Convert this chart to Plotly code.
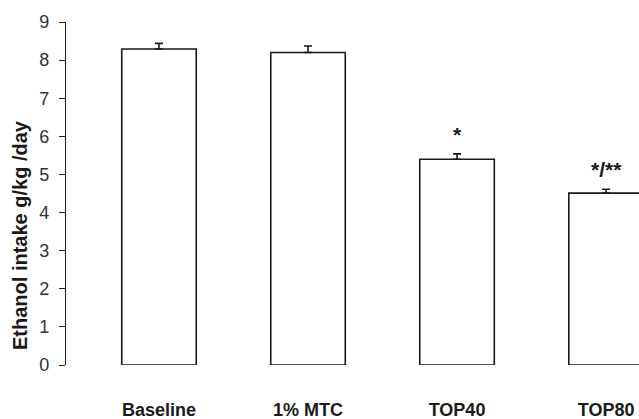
import plotly.graph_objects as go

categories = ["Baseline", "1% MTC", "TOP40", "TOP80"]
values = [8.29, 8.20, 5.40, 4.51]
errors = [0.15, 0.17, 0.14, 0.10]
sig_labels = ["", "", "*", "*/**"]
y_ticks = [0, 1, 2, 3, 4, 5, 6, 7, 8, 9]
y_title = "Ethanol intake g/kg /day"

SANS = "Liberation Sans, Arial, sans-serif"

fig = go.Figure()
fig.add_trace(go.Bar(
    x=categories, y=values, width=0.5,
    marker=dict(color="white", line=dict(color="#1a1a1a", width=1.6)),
    error_y=dict(type="data", array=errors, arrayminus=[0]*len(errors), symmetric=False,
                 color="#1a1a1a", thickness=1.6, width=4),
    cliponaxis=True,
    hoverinfo="skip",
))

for c, v, e, s in zip(categories, values, errors, sig_labels):
    if s:
        fig.add_annotation(x=c, y=v + e, text="<b>" + s + "</b>", showarrow=False, yanchor="bottom",
                           yshift=6, font=dict(family=SANS, size=21, color="#1a1a1a"))

fig.add_annotation(xref="paper", yref="paper", x=0, y=0.379, xanchor="center", yanchor="middle",
                   xshift=-46, textangle=-90, showarrow=False,
                   text="<b>" + y_title + "</b>",
                   font=dict(family=SANS, size=20, color="#1a1a1a"))

fig.update_layout(
    width=639, height=419,
    margin=dict(l=66, r=0, t=22, b=54),
    plot_bgcolor="white", paper_bgcolor="white",
    showlegend=False,
    xaxis=dict(range=[-0.624, 3.221], showline=False, showgrid=False, zeroline=False,
               ticks="", ticklabelstandoff=32, automargin=False,
               tickfont=dict(family=SANS, size=18, color="#1a1a1a"),
               tickprefix="<b>", ticksuffix="</b>"),
    yaxis=dict(range=[0, 9], tickvals=y_ticks, showline=True, linecolor="#1a1a1a", linewidth=1.3,
               ticks="outside", ticklen=6, tickcolor="#1a1a1a", tickwidth=1.3,
               showgrid=False, zeroline=False, ticklabelstandoff=6, automargin=False,
               tickfont=dict(family=SANS, size=18, color="#333333")),
)

fig.write_html("out.html", config={"displayModeBar": False},
               post_script="document.body.style.margin='0';document.body.style.padding='0';")
